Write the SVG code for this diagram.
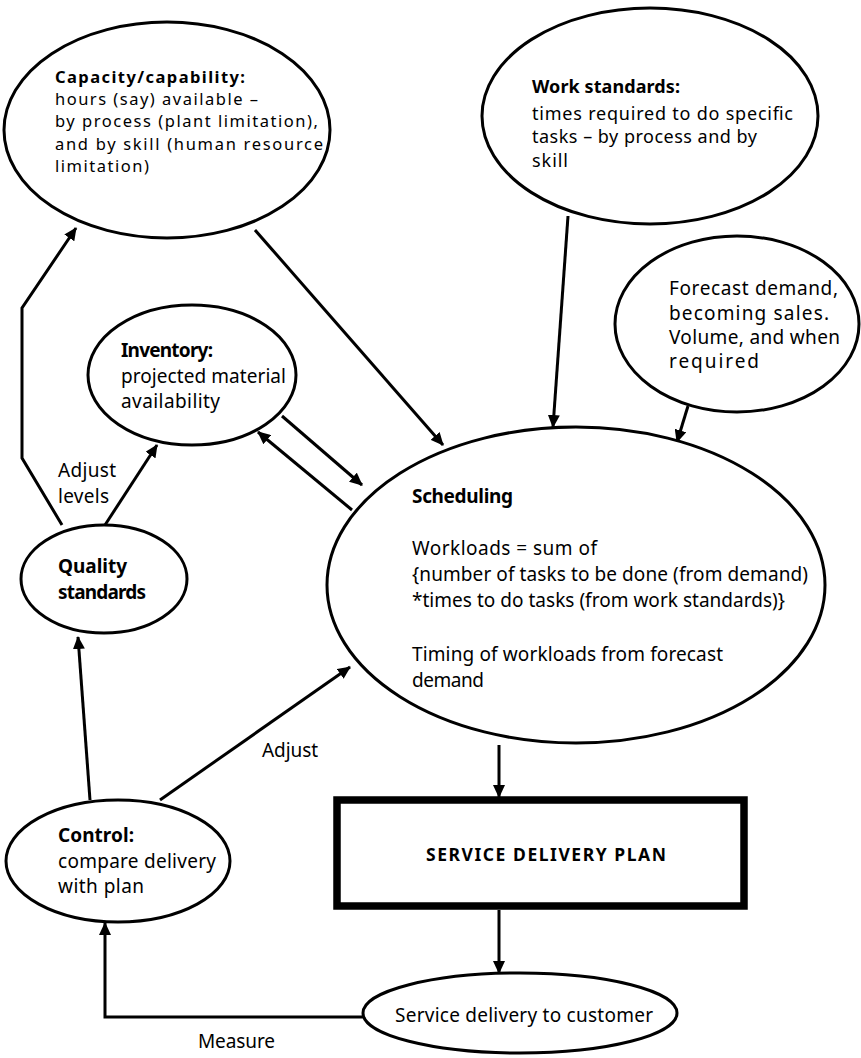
<svg xmlns="http://www.w3.org/2000/svg" width="861" height="1058" viewBox="0 0 861 1058">
  <style>
    .node { fill: #fff; stroke: #000; stroke-width: 3; }
    .plan { fill: #fff; stroke: #000; stroke-width: 7.5; }
    .edge { fill: none; stroke: #000; stroke-width: 3; marker-end: url(#arrow); }
    text { font-family: "Noto Sans", "Open Sans", sans-serif; fill: #000; }
    .t { font-size: 19px; }
    .s { font-size: 16.5px; }
    .m { font-size: 18px; }
    .b { font-weight: bold; }
    .cap { font-size: 17.5px; }
  </style>
  <defs>
    <marker id="arrow" markerUnits="userSpaceOnUse" markerWidth="13" markerHeight="12" refX="12" refY="6" orient="auto">
      <path d="M0,0 L13,6 L0,12 z" fill="#000"/>
    </marker>
  </defs>
  <rect width="861" height="1058" fill="#fff"/>

  <!-- connectors and their labels -->
  <g id="connectors">
    <line class="edge" x1="255" y1="230" x2="443" y2="445"/>
    <line class="edge" x1="568" y1="216" x2="553" y2="427"/>
    <line class="edge" x1="688" y1="406" x2="677" y2="442"/>
    <line class="edge" x1="282" y1="416" x2="362" y2="485"/>
    <line class="edge" x1="352" y1="510" x2="258" y2="432"/>
    <line class="edge" x1="105" y1="525" x2="157" y2="445"/>
    <polyline class="edge" points="62,525 22,458 22,308 76,228"/>
    <line class="edge" x1="90" y1="800" x2="78" y2="637"/>
    <line class="edge" x1="160" y1="800" x2="350" y2="667"/>
    <line class="edge" x1="499" y1="745" x2="499" y2="797"/>
    <line class="edge" x1="499" y1="910" x2="499" y2="973"/>
    <polyline class="edge" points="363,1017 105,1017 105,923"/>
    <text class="t" x="58" y="477" textLength="58">Adjust</text>
    <text class="t" x="58" y="503" textLength="51">levels</text>
    <text class="t" x="262" y="757" textLength="56">Adjust</text>
    <text class="t" x="198" y="1048" textLength="77">Measure</text>
  </g>

  <g id="capacity">
    <ellipse class="node" cx="167" cy="130" rx="163" ry="108"/>
    <text class="s b" x="55" y="83" textLength="190">Capacity/capability:</text>
    <text class="s" x="55" y="105" textLength="203">hours (say) available –</text>
    <text class="s" x="55" y="127" textLength="263">by process (plant limitation),</text>
    <text class="s" x="55" y="150" textLength="268">and by skill (human resource</text>
    <text class="s" x="55" y="172" textLength="94">limitation)</text>
  </g>

  <g id="work-standards">
    <ellipse class="node" cx="650" cy="116" rx="168" ry="108"/>
    <text class="m b" x="532" y="93" textLength="148">Work standards:</text>
    <text class="m" x="532" y="120" textLength="261">times required to do specific</text>
    <text class="m" x="532" y="143" textLength="225">tasks – by process and by</text>
    <text class="m" x="532" y="167" textLength="36">skill</text>
  </g>

  <g id="forecast">
    <ellipse class="node" cx="737" cy="324" rx="122" ry="88"/>
    <text class="t" x="669" y="295" textLength="169">Forecast demand,</text>
    <text class="t" x="669" y="320" textLength="160">becoming sales.</text>
    <text class="t" x="669" y="344" textLength="171">Volume, and when</text>
    <text class="t" x="669" y="368" textLength="90">required</text>
  </g>

  <g id="inventory">
    <ellipse class="node" cx="192" cy="375" rx="104" ry="70"/>
    <text class="t b" x="121" y="357" textLength="92">Inventory:</text>
    <text class="t" x="121" y="383" textLength="165">projected material</text>
    <text class="t" x="121" y="408" textLength="99">availability</text>
  </g>

  <g id="scheduling">
    <ellipse class="node" cx="576" cy="585" rx="249" ry="158"/>
    <text class="t b" x="412" y="503" textLength="101">Scheduling</text>
    <text class="t" x="412" y="555" textLength="185">Workloads = sum of</text>
    <text class="t" x="412" y="581" textLength="396">{number of tasks to be done (from demand)</text>
    <text class="t" x="412" y="607" textLength="373">*times to do tasks (from work standards)}</text>
    <text class="t" x="412" y="661" textLength="311">Timing of workloads from forecast</text>
    <text class="t" x="412" y="687" textLength="72">demand</text>
  </g>

  <g id="quality">
    <ellipse class="node" cx="104" cy="579" rx="83" ry="54"/>
    <text class="t b" x="58" y="573" textLength="69">Quality</text>
    <text class="t b" x="58" y="599" textLength="88">standards</text>
  </g>

  <g id="control">
    <ellipse class="node" cx="118" cy="861" rx="112" ry="61"/>
    <text class="t b" x="58" y="842" textLength="76">Control:</text>
    <text class="t" x="58" y="868" textLength="158">compare delivery</text>
    <text class="t" x="58" y="893" textLength="86">with plan</text>
  </g>

  <g id="service-delivery-plan">
    <rect class="plan" x="337" y="800" width="407" height="106"/>
    <text class="b cap" x="426" y="861" textLength="240">SERVICE DELIVERY PLAN</text>
  </g>

  <g id="service-delivery">
    <ellipse class="node" cx="520" cy="1013" rx="157" ry="40"/>
    <text class="t" x="395" y="1022" textLength="258">Service delivery to customer</text>
  </g>
</svg>
